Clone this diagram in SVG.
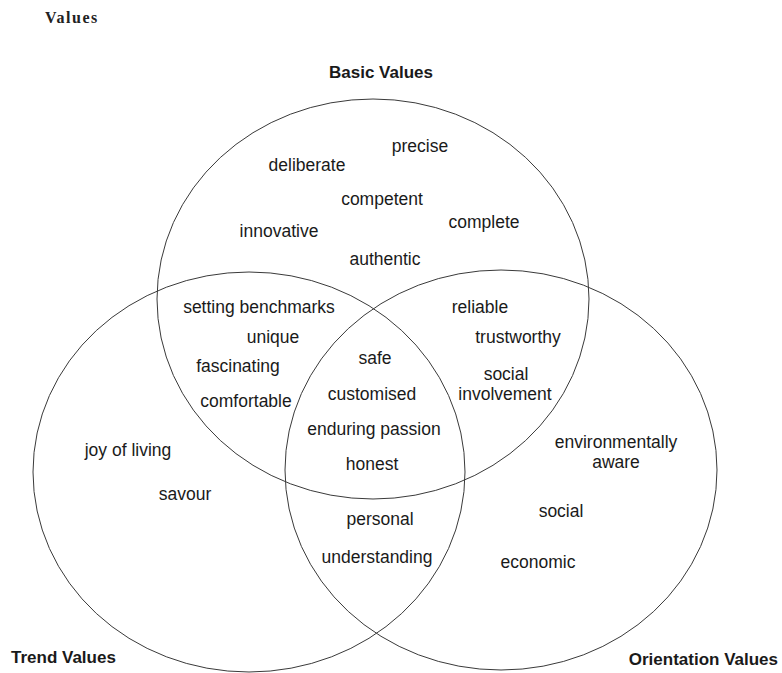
<svg xmlns="http://www.w3.org/2000/svg" width="782" height="673" viewBox="0 0 782 673">
  <style>
    .ring { fill: none; stroke: #3a3a3a; stroke-width: 1; }
    .lbl { font-family: "Liberation Sans", Arial, sans-serif; font-size: 17.5px; fill: #1a1a1a; text-anchor: middle; }
    .ttl { font-family: "Liberation Sans", Arial, sans-serif; font-size: 17px; font-weight: bold; fill: #1a1a1a; }
    .cap { font-family: "Liberation Serif", "Times New Roman", serif; font-size: 16px; font-weight: bold; fill: #222; letter-spacing: 1.5px; }
  </style>
  <rect width="782" height="673" fill="#fff"/>

  <text class="cap" x="45" y="23">Values</text>

  <!-- the three overlapping value sets -->
  <g id="set-basic">
    <ellipse class="ring" cx="373" cy="299" rx="216" ry="200"/>
    <text class="ttl" x="381" y="78" text-anchor="middle">Basic Values</text>
  </g>
  <g id="set-trend">
    <ellipse class="ring" cx="249" cy="472" rx="216" ry="200"/>
    <text class="ttl" x="11" y="663">Trend Values</text>
  </g>
  <g id="set-orientation">
    <ellipse class="ring" cx="501" cy="470" rx="216" ry="200"/>
    <text class="ttl" x="778" y="665" text-anchor="end">Orientation Values</text>
  </g>

  <!-- Basic only -->
  <g id="basic-only">
    <text class="lbl" x="420" y="152">precise</text>
    <text class="lbl" x="307" y="171">deliberate</text>
    <text class="lbl" x="382" y="205">competent</text>
    <text class="lbl" x="484" y="228">complete</text>
    <text class="lbl" x="279" y="237">innovative</text>
    <text class="lbl" x="385" y="265">authentic</text>
  </g>

  <!-- Basic and Trend -->
  <g id="basic-trend">
    <text class="lbl" x="259" y="313">setting benchmarks</text>
    <text class="lbl" x="273" y="343">unique</text>
    <text class="lbl" x="238" y="372">fascinating</text>
    <text class="lbl" x="246" y="407">comfortable</text>
  </g>

  <!-- Basic and Orientation -->
  <g id="basic-orientation">
    <text class="lbl" x="480" y="313">reliable</text>
    <text class="lbl" x="518" y="343">trustworthy</text>
    <text class="lbl" x="506" y="380">social</text>
    <text class="lbl" x="505" y="400">involvement</text>
  </g>

  <!-- all three -->
  <g id="core">
    <text class="lbl" x="375" y="364">safe</text>
    <text class="lbl" x="372" y="400">customised</text>
    <text class="lbl" x="374" y="435">enduring passion</text>
    <text class="lbl" x="372" y="470">honest</text>
  </g>

  <!-- Trend only -->
  <g id="trend-only">
    <text class="lbl" x="128" y="456">joy of living</text>
    <text class="lbl" x="185" y="500">savour</text>
  </g>

  <!-- Trend and Orientation -->
  <g id="trend-orientation">
    <text class="lbl" x="380" y="525">personal</text>
    <text class="lbl" x="377" y="563">understanding</text>
  </g>

  <!-- Orientation only -->
  <g id="orientation-only">
    <text class="lbl" x="616" y="448">environmentally</text>
    <text class="lbl" x="616" y="468">aware</text>
    <text class="lbl" x="561" y="517">social</text>
    <text class="lbl" x="538" y="568">economic</text>
  </g>
</svg>
